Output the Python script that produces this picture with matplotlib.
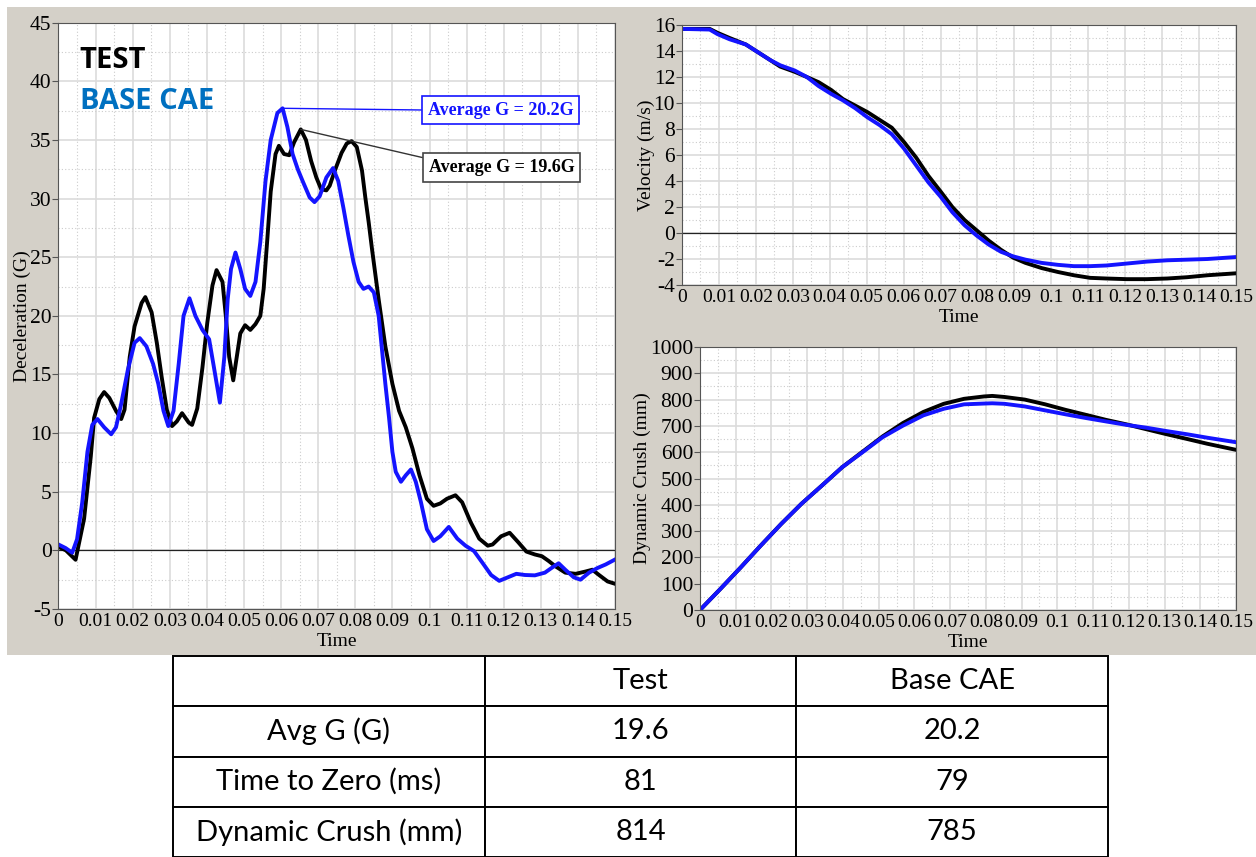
import matplotlib.pyplot as plt
from matplotlib.patches import Rectangle
from matplotlib.ticker import MultipleLocator, FuncFormatter

# deceleration (G) vs time (s)
t_dec_test = [0, 0.0020, 0.0046, 0.0069, 0.0087, 0.0096, 0.0110, 0.0123, 0.0137, 0.0155,
              0.0169, 0.0178, 0.0192, 0.0205, 0.0224, 0.0234, 0.0251, 0.0265, 0.0278, 0.0292,
              0.0306, 0.0319, 0.0333, 0.0351, 0.0360, 0.0374, 0.0388, 0.0401, 0.0415, 0.0426,
              0.0442, 0.0451, 0.0460, 0.0471, 0.0490, 0.0503, 0.0517, 0.0531, 0.0544, 0.0553,
              0.0563, 0.0572, 0.0585, 0.0594, 0.0608, 0.0622, 0.0635, 0.0653, 0.0667, 0.0681,
              0.0695, 0.0708, 0.0722, 0.0731, 0.0745, 0.0763, 0.0777, 0.0790, 0.0804, 0.0818,
              0.0827, 0.0836, 0.0845, 0.0863, 0.0881, 0.0900, 0.0918, 0.0936, 0.0954, 0.0973,
              0.0993, 0.1011, 0.1029, 0.1047, 0.1070, 0.1088, 0.1111, 0.1134, 0.1157, 0.1170,
              0.1193, 0.1216, 0.1239, 0.1261, 0.1284, 0.1303, 0.1321, 0.1339, 0.1366, 0.1394,
              0.1421, 0.1439, 0.1457, 0.1480, 0.1500]
g_test = [0.3, 0.0, -0.8, 2.7, 8.0, 11.3, 12.9, 13.5, 13.0, 11.9,
          11.2, 12.0, 16.5, 19.1, 21.1, 21.6, 20.3, 17.7, 14.8, 12.0,
          10.6, 11.0, 11.7, 10.9, 10.7, 12.1, 15.6, 19.4, 22.6, 23.9,
          22.9, 20.0, 16.5, 14.5, 18.5, 19.2, 18.8, 19.3, 20.0, 22.3,
          26.6, 30.6, 33.8, 34.5, 33.8, 33.7, 34.8, 35.9, 35.0, 33.2,
          31.8, 30.8, 30.7, 31.1, 32.4, 33.9, 34.7, 34.9, 34.4, 32.4,
          30.1, 28.0, 25.7, 21.4, 17.4, 14.2, 11.9, 10.5, 8.7, 6.4,
          4.4, 3.8, 4.0, 4.4, 4.7, 4.1, 2.4, 1.0, 0.4, 0.5,
          1.2, 1.5, 0.7, -0.1, -0.35, -0.5, -0.9, -1.35, -1.9, -2.0,
          -1.8, -1.65, -2.1, -2.65, -2.85]

t_dec_cae = [0, 0.0019, 0.0037, 0.0050, 0.0064, 0.0078, 0.0091, 0.0105, 0.0123, 0.0142,
             0.0155, 0.0169, 0.0187, 0.0205, 0.0219, 0.0237, 0.0255, 0.0269, 0.0283, 0.0296,
             0.0310, 0.0324, 0.0337, 0.0353, 0.0369, 0.0388, 0.0406, 0.0419, 0.0435, 0.0447,
             0.0456, 0.0465, 0.0477, 0.0490, 0.0503, 0.0517, 0.0531, 0.0544, 0.0558, 0.0572,
             0.0590, 0.0604, 0.0617, 0.0631, 0.0645, 0.0658, 0.0677, 0.0690, 0.0704, 0.0722,
             0.0740, 0.0754, 0.0768, 0.0781, 0.0795, 0.0809, 0.0822, 0.0836, 0.0850, 0.0863,
             0.0872, 0.0881, 0.0891, 0.0900, 0.0909, 0.0923, 0.0936, 0.0950, 0.0963, 0.0977,
             0.0993, 0.1011, 0.1029, 0.1052, 0.1075, 0.1097, 0.1120, 0.1143, 0.1166, 0.1188,
             0.1211, 0.1234, 0.1257, 0.1284, 0.1311, 0.1329, 0.1348, 0.1366, 0.1389, 0.1407,
             0.1430, 0.1453, 0.1475, 0.1500]
g_cae = [0.5, 0.2, -0.2, 0.95, 4.1, 8.4, 10.7, 11.2, 10.5, 9.9,
         10.5, 12.5, 15.4, 17.7, 18.1, 17.4, 15.9, 14.2, 11.9, 10.6,
         11.9, 15.9, 20.0, 21.5, 20.0, 18.8, 18.0, 15.6, 12.6, 16.5,
         21.4, 24.0, 25.4, 24.0, 22.3, 21.7, 22.9, 26.3, 31.5, 35.0,
         37.3, 37.7, 36.1, 33.8, 32.5, 31.5, 30.1, 29.7, 30.2, 31.8,
         32.6, 31.5, 29.2, 26.9, 24.6, 22.9, 22.3, 22.5, 22.0, 20.0,
         17.1, 14.2, 11.3, 8.4, 6.7, 5.85, 6.4, 6.9, 5.85, 4.1,
         1.8, 0.8, 1.2, 2.0, 1.0, 0.4, -0.06, -1.07, -2.1, -2.6,
         -2.3, -2.0, -2.1, -2.13, -1.9, -1.5, -1.1, -1.65, -2.3, -2.5,
         -1.9, -1.5, -1.2, -0.78]

# velocity (m/s)
t_vel = [0, 0.0075, 0.0096, 0.0129, 0.0173, 0.0206, 0.0239, 0.0266, 0.0305, 0.0338,
         0.0370, 0.0404, 0.0436, 0.0469, 0.0502, 0.0535, 0.0568, 0.0601, 0.0634, 0.0667,
         0.0700, 0.0732, 0.0765, 0.0798, 0.0831, 0.0864, 0.0897, 0.0930, 0.0974, 0.1018,
         0.1061, 0.1105, 0.1149, 0.1204, 0.1259, 0.1314, 0.1368, 0.1423, 0.1500]
v_test = [15.7, 15.7, 15.4, 15.0, 14.5, 13.9, 13.3, 12.8, 12.4, 12.0,
          11.6, 11.0, 10.3, 9.8, 9.3, 8.7, 8.1, 7.0, 5.8, 4.4,
          3.2, 2.0, 1.0, 0.2, -0.6, -1.3, -1.9, -2.3, -2.7, -3.0,
          -3.25, -3.45, -3.5, -3.55, -3.55, -3.5, -3.4, -3.25, -3.1]
v_cae = [15.7, 15.65, 15.3, 14.9, 14.5, 13.9, 13.3, 12.9, 12.5, 12.0,
         11.3, 10.7, 10.2, 9.6, 8.9, 8.3, 7.6, 6.5, 5.2, 3.9,
         2.8, 1.6, 0.6, -0.2, -0.9, -1.45, -1.8, -2.05, -2.3, -2.45,
         -2.55, -2.55, -2.5, -2.35, -2.2, -2.1, -2.05, -2.0, -1.85]

# dynamic crush (mm)
t_cr = [0, 0.0057, 0.0114, 0.0170, 0.0227, 0.0284, 0.0341, 0.0398, 0.0455, 0.0511,
        0.0568, 0.0625, 0.0682, 0.0739, 0.0795, 0.0818, 0.0852, 0.0909, 0.0966, 0.1023,
        0.1080, 0.1136, 0.1193, 0.1250, 0.1307, 0.1364, 0.1420, 0.1500]
cr_test = [0, 80, 162, 245, 327, 404, 473, 543, 602, 660,
           711, 753, 784, 803, 812, 814, 810, 800, 782, 761,
           742, 723, 706, 687, 668, 650, 632, 609]
cr_cae = [0, 80, 162, 245, 327, 404, 473, 543, 600, 657,
          701, 740, 765, 782, 785, 786, 784, 774, 759, 744,
          730, 717, 704, 693, 680, 668, 655, 638]

avg_g_test = 19.6
avg_g_cae = 20.2

row_labels = ["Avg G (G)", "Time to Zero (ms)", "Dynamic Crush (mm)"]
col_labels = ["", "Test", "Base CAE"]
test_vals = ["19.6", "81", "814"]
cae_vals = ["20.2", "79", "785"]

BLUE = "#1414ff"
W, H = 1256, 857

plt.rcParams['font.family'] = ['Liberation Serif', 'DejaVu Serif']
plt.rcParams['font.size'] = 14
plt.rcParams['axes.unicode_minus'] = False

fig = plt.figure(figsize=(W / 100, H / 100), dpi=100)
fig.patches.append(Rectangle((7 / W, 1 - 655 / H), 1 - 7 / W, (655 - 7) / H,
                             transform=fig.transFigure, facecolor="#d4d0c8",
                             edgecolor="none", zorder=-5))


def box(x0, y0, x1, y1):
    return [x0 / W, 1 - y1 / H, (x1 - x0) / W, (y1 - y0) / H]


def style(ax, ymin, ymax, ymaj, ymin_step, ylabel):
    ax.set_xlim(0, 0.15)
    ax.set_ylim(ymin, ymax)
    ax.xaxis.set_major_locator(MultipleLocator(0.01))
    ax.xaxis.set_minor_locator(MultipleLocator(0.005))
    ax.yaxis.set_major_locator(MultipleLocator(ymaj))
    ax.yaxis.set_minor_locator(MultipleLocator(ymin_step))
    ax.xaxis.set_major_formatter(FuncFormatter(lambda v, p: "%g" % round(v, 3)))
    ax.grid(which="major", color="#dcdcdc", lw=1.2)
    ax.grid(which="minor", color="#cccccc", lw=0.8, ls=(0, (1, 2)))
    ax.tick_params(which="minor", length=0)
    ax.tick_params(which="major", length=4, color="#555555", pad=1, labelsize=15.5)
    ax.tick_params(axis="x", length=0, pad=3, labelsize=14)
    for s in ax.spines.values():
        s.set_color("#555555")
    ax.set_axisbelow(True)
    ax.set_xlabel("Time", fontsize=14, labelpad=2)
    ax.set_ylabel(ylabel, fontsize=14, labelpad=-1)


# deceleration
ax1 = fig.add_axes(box(58.5, 22.7, 615, 609))
style(ax1, -5, 45, 5, 2.5, "Deceleration (G)")
ax1.axhline(0, color="#222222", lw=0.9)
ax1.plot(t_dec_test, g_test, color="black", lw=2.8)
ax1.plot(t_dec_cae, g_cae, color=BLUE, lw=2.8)

i_c = g_cae.index(max(g_cae))
ax1.annotate("Average G = %.1fG" % avg_g_cae, xy=(t_dec_cae[i_c], g_cae[i_c]),
             xytext=(0.0995, 37.55), ha="left", va="center", color=BLUE,
             fontsize=13, fontweight="bold",
             bbox=dict(boxstyle="square,pad=0.32", fc="white", ec=BLUE, lw=1.2),
             arrowprops=dict(arrowstyle="-", color=BLUE, lw=1, relpos=(0, 0.5),
                             shrinkA=0, shrinkB=0))
i_t = g_test.index(max(g_test))
ax1.annotate("Average G = %.1fG" % avg_g_test, xy=(t_dec_test[i_t], g_test[i_t]),
             xytext=(0.0998, 32.65), ha="left", va="center", color="black",
             fontsize=13, fontweight="bold",
             bbox=dict(boxstyle="square,pad=0.32", fc="white", ec="#444444", lw=1.2),
             arrowprops=dict(arrowstyle="-", color="#333333", lw=1, relpos=(0, 1),
                             shrinkA=0, shrinkB=0))

ax1.text(0.038, 0.935, "TEST", transform=ax1.transAxes, fontsize=21,
         fontweight="bold", family=["Open Sans", "DejaVu Sans"], color="black",
         va="center", ha="left")
ax1.text(0.038, 0.865, "BASE CAE", transform=ax1.transAxes, fontsize=21,
         fontweight="bold", family=["Open Sans", "DejaVu Sans"], color="#0070c0",
         va="center", ha="left")

# velocity
ax2 = fig.add_axes(box(682, 25, 1236, 285))
style(ax2, -4, 16, 2, 1, "Velocity (m/s)")
ax2.axhline(0, color="#222222", lw=0.9)
ax2.plot(t_vel, v_test, color="black", lw=2.8)
ax2.plot(t_vel, v_cae, color=BLUE, lw=2.8)

# crush
ax3 = fig.add_axes(box(700, 347, 1236, 610))
style(ax3, 0, 1000, 100, 50, "Dynamic Crush (mm)")
ax3.plot(t_cr, cr_test, color="black", lw=2.8)
ax3.plot(t_cr, cr_cae, color=BLUE, lw=2.8)

# table
axt = fig.add_axes(box(173, 656, 1108, 857))
axt.axis("off")
cells = [col_labels] + [[r, a, b] for r, a, b in zip(row_labels, test_vals, cae_vals)]
tb = axt.table(cellText=cells, cellLoc="center", bbox=[0, 0, 1, 1])
tb.auto_set_font_size(False)
for (r, c), cell in tb.get_celld().items():
    cell.set_edgecolor("black")
    cell.set_linewidth(1.4)
    cell.set_facecolor("white")
    cell.get_text().set_fontsize(21)
    cell.get_text().set_family(["Lato", "DejaVu Sans"])

fig.savefig("out.png", dpi=100)
